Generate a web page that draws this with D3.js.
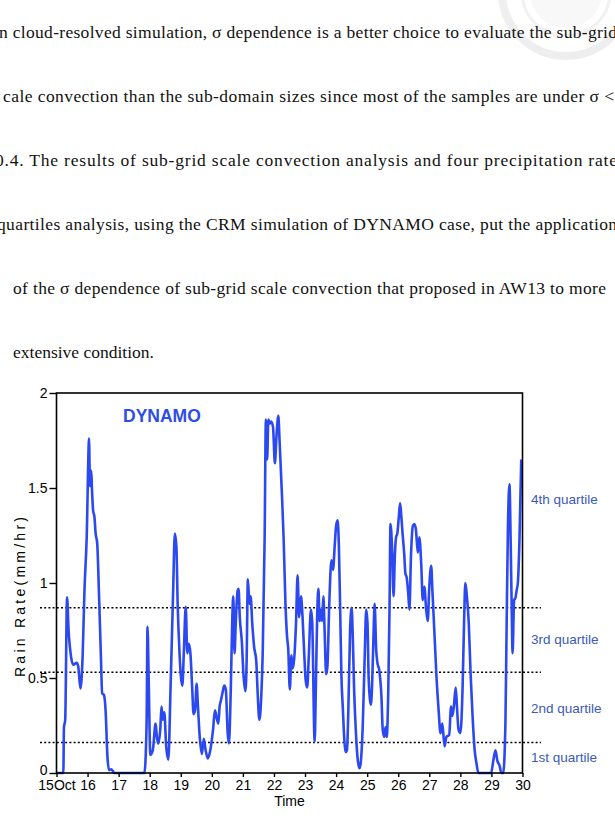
<!DOCTYPE html>
<html>
<head>
<meta charset="utf-8">
<script src="https://cdn.jsdelivr.net/npm/d3@7"></script>
<style>
  body { margin: 0; background: #fff; }
  svg { display: block; }
</style>
</head>
<body>
<div id="chart"></div>
<script>
// paragraph lines above the figure (page text)
const paraLines = [
  "n cloud-resolved simulation, σ dependence is a better choice to evaluate the sub-grid",
  "cale convection than the sub-domain sizes since most of the samples are under σ <",
  "0.4. The results of sub-grid scale convection analysis and four precipitation rate",
  "quartiles analysis, using the CRM simulation of DYNAMO case, put the application",
  "of the σ dependence of sub-grid scale convection that proposed in AW13 to more",
  "extensive condition."
]

// time axis, days of October 2011
const days = [
  15.00, 15.22, 15.24, 15.28, 15.34, 15.39, 15.47, 15.54, 15.65, 15.70, 15.77, 15.84, 15.90, 15.97,
  16.05, 16.06, 16.08, 16.12, 16.14, 16.18, 16.22, 16.26, 16.31, 16.37, 16.43, 16.47, 16.53, 16.58,
  16.64, 16.69, 16.77, 16.86, 17.83, 17.90, 17.93, 17.97, 18.02, 18.10, 18.19, 18.23, 18.27, 18.34,
  18.38, 18.42, 18.47, 18.53, 18.60, 18.67, 18.75, 18.81, 18.86, 18.90, 18.96, 19.05, 19.10, 19.16,
  19.21, 19.26, 19.31, 19.37, 19.41, 19.46, 19.51, 19.55, 19.61, 19.68, 19.74, 19.80, 19.87, 19.95,
  20.04, 20.10, 20.17, 20.21, 20.25, 20.29, 20.34, 20.40, 20.45, 20.51, 20.55, 20.61, 20.66, 20.69,
  20.73, 20.77, 20.83, 20.86, 20.90, 20.97, 21.01, 21.08, 21.12, 21.16, 21.21, 21.25, 21.30, 21.36,
  21.43, 21.47, 21.53, 21.59, 21.64, 21.70, 21.74, 21.78, 21.82, 21.87, 21.91, 21.97, 22.03, 22.08,
  22.14, 22.18, 22.25, 22.31, 22.37, 22.42, 22.46, 22.51, 22.56, 22.60, 22.65, 22.71, 22.76, 22.81,
  22.87, 22.92, 22.98, 23.02, 23.07, 23.12, 23.19, 23.23, 23.31, 23.35, 23.39, 23.43, 23.47, 23.51,
  23.55, 23.59, 23.63, 23.68, 23.72, 23.78, 23.85, 23.90, 23.96, 24.00, 24.05, 24.09, 24.13, 24.17,
  24.22, 24.26, 24.30, 24.35, 24.39, 24.45, 24.50, 24.54, 24.58, 24.63, 24.69, 24.75, 24.79, 24.86,
  24.92, 24.97, 25.01, 25.05, 25.12, 25.16, 25.20, 25.24, 25.29, 25.33, 25.39, 25.46, 25.50, 25.55,
  25.59, 25.63, 25.68, 25.72, 25.75, 25.80, 25.85, 25.89, 25.93, 25.97, 26.02, 26.06, 26.10, 26.14,
  26.19, 26.23, 26.27, 26.32, 26.36, 26.41, 26.47, 26.52, 26.57, 26.63, 26.68, 26.74, 26.79, 26.84,
  26.90, 26.95, 27.00, 27.06, 27.10, 27.17, 27.23, 27.30, 27.36, 27.42, 27.49, 27.55, 27.64, 27.70,
  27.74, 27.79, 27.85, 27.89, 27.94, 28.00, 28.07, 28.12, 28.16, 28.21, 28.27, 28.33, 28.39, 28.46,
  28.52, 28.58, 28.99, 29.06, 29.13, 29.19, 29.26, 29.32, 29.38, 29.45, 29.49, 29.53, 29.58, 29.62,
  29.66, 29.68, 29.73, 29.77, 29.81, 29.85, 29.90, 29.96
]

// domain mean rain rate (mm/hr)
const rain = [
  0.00, 0.00, 0.24, 0.28, 0.925, 0.75, 0.61, 0.57, 0.58, 0.56, 0.445, 0.61, 0.96, 1.23,
  1.76, 1.66, 1.51, 1.59, 1.50, 1.38, 1.35, 1.26, 1.21, 0.93, 0.61, 0.42, 0.41, 0.33,
  0.085, 0.015, 0.02, 0.00, 0.00, 0.26, 0.77, 0.47, 0.095, 0.12, 0.26, 0.19, 0.155, 0.23,
  0.35, 0.28, 0.32, 0.14, 0.07, 0.44, 0.93, 1.26, 1.19, 0.89, 0.63, 0.46, 0.64, 0.875,
  0.63, 0.68, 0.63, 0.44, 0.31, 0.33, 0.47, 0.36, 0.19, 0.10, 0.18, 0.12, 0.077, 0.12,
  0.23, 0.33, 0.28, 0.26, 0.35, 0.38, 0.42, 0.46, 0.44, 0.21, 0.155, 0.44, 0.82, 0.93,
  0.63, 0.79, 0.96, 0.97, 0.82, 0.68, 0.54, 0.43, 0.59, 1.02, 0.89, 0.93, 0.79, 0.665,
  0.59, 0.44, 0.28, 0.40, 0.65, 1.24, 1.86, 1.65, 1.86, 1.84, 1.85, 1.82, 1.63, 1.77,
  1.88, 1.75, 1.49, 1.24, 0.89, 0.72, 0.65, 0.44, 0.62, 0.55, 0.60, 0.79, 1.04, 0.82,
  0.93, 0.82, 0.61, 0.49, 0.45, 0.61, 0.86, 0.80, 0.165, 0.47, 0.82, 0.97, 0.80, 0.86,
  0.80, 0.93, 0.75, 0.52, 0.56, 0.89, 1.12, 1.07, 1.21, 1.30, 1.33, 1.19, 0.87, 0.52,
  0.33, 0.19, 0.11, 0.12, 0.30, 0.75, 0.87, 0.70, 0.44, 0.24, 0.08, 0.025, 0.05, 0.26,
  0.61, 0.86, 0.79, 0.49, 0.36, 0.47, 0.70, 0.89, 0.65, 0.58, 0.54, 0.40, 0.23, 0.19,
  0.24, 0.19, 0.44, 0.87, 1.31, 1.19, 0.93, 1.14, 1.24, 1.26, 1.35, 1.42, 1.35, 1.26,
  1.16, 1.05, 1.03, 0.95, 0.86, 1.14, 1.30, 1.31, 1.28, 1.16, 1.24, 1.10, 0.91, 0.98,
  0.86, 0.80, 0.98, 1.09, 0.96, 0.72, 0.51, 0.33, 0.21, 0.26, 0.14, 0.19, 0.20, 0.35,
  0.30, 0.35, 0.45, 0.35, 0.23, 0.21, 0.44, 0.80, 1.00, 0.93, 0.79, 0.52, 0.31, 0.12,
  0.05, 0.00, 0.00, 0.065, 0.12, 0.065, 0.04, 0.00, 0.00, 0.26, 0.79, 1.28, 1.52, 1.21,
  0.79, 0.63, 0.91, 0.92, 0.96, 1.00, 1.21, 1.65
]

// quartile boundaries and label anchor values
const quartileBounds = [0.16, 0.53, 0.87]
const quartileNames = ["1st quartile", "2nd quartile", "3rd quartile", "4th quartile"]
const quartileLabelAt = [0.085, 0.34, 0.705, 1.44]

const yTicks = [0, 0.5, 1, 1.5, 2]
const yTickLabels = ["0", "0.5", "1", "1.5", "2"]
const xTicks = d3.range(15, 31)
const xTickLabels = ["15Oct", "16", "17", "18", "19", "20", "21", "22", "23", "24", "25", "26", "27", "28", "29", "30"]

const width = 615
const height = 828
const plot = {left: 56.5, right: 522.5, top: 393, bottom: 773}

const svg = d3.select("#chart")
  .append("svg")
  .attr("width", width)
  .attr("height", height)

// faint seal watermark in the top right corner
const seal = svg.append("g").attr("opacity", 0.4)
seal.append("circle").attr("cx", 566).attr("cy", -8).attr("r", 64)
  .style("fill", "none").style("stroke", "#d6d6d6").style("stroke-width", 8)
seal.append("circle").attr("cx", 566).attr("cy", -8).attr("r", 44)
  .style("fill", "none").style("stroke", "#dedede").style("stroke-width", 3)
seal.append("circle").attr("cx", 566).attr("cy", -8).attr("r", 36)
  .style("fill", "#efefef").style("stroke", "none")

// page text, each justified between two x positions
const lineX = [[-1, 617], [3, 614], [-5, 617], [-3, 617], [13, 606], null]
const lineY0 = 38
const lineStep = 64

paraLines.forEach((t, i) => {
  const txt = svg.append("text")
    .attr("x", i === 5 ? 13 : lineX[i][0])
    .attr("y", lineY0 + i * lineStep)
    .style("font-family", "'Liberation Serif', 'Times New Roman', serif")
    .style("font-size", "17.5px")
    .style("fill", "#111")
    .text(t)
  if (lineX[i]) {
    txt.attr("textLength", lineX[i][1] - lineX[i][0]).attr("lengthAdjust", "spacing")
  }
})

const x = d3.scaleLinear().domain([15, 30]).range([plot.left, plot.right])
const y = d3.scaleLinear().domain([0, 2]).range([plot.bottom, plot.top])

const data = days.map((d, i) => ({day: d, rate: rain[i]}))

const font = "'Liberation Sans', Arial, sans-serif"

// quartile dotted lines (reach past the frame)
svg.append("g").selectAll("line")
  .data(quartileBounds)
  .enter()
  .append("line")
  .attr("x1", 40)
  .attr("x2", 541)
  .attr("y1", d => y(d))
  .attr("y2", d => y(d))
  .style("stroke", "#000")
  .style("stroke-width", 1.5)
  .style("stroke-dasharray", "2,2.2")

// rain rate line
const line = d3.line()
  .x(d => x(d.day))
  .y(d => y(d.rate))
  .curve(d3.curveMonotoneX)

svg.append("path")
  .datum(data)
  .attr("d", line)
  .style("fill", "none")
  .style("stroke", "#2c48f0")
  .style("stroke-width", 2.6)
  .style("stroke-linejoin", "round")

// frame
svg.append("rect")
  .attr("x", plot.left)
  .attr("y", plot.top)
  .attr("width", plot.right - plot.left)
  .attr("height", plot.bottom - plot.top)
  .style("fill", "none")
  .style("stroke", "#000")
  .style("stroke-width", 1.6)

const yaxis = svg.append("g")
  .attr("transform", "translate(" + plot.left + ",0)")
  .call(d3.axisLeft(y)
    .tickValues(yTicks)
    .tickFormat((d, i) => yTickLabels[i])
    .tickSizeOuter(0)
    .tickSizeInner(7)
    .tickPadding(2))
yaxis.select(".domain").remove()
yaxis.selectAll("line").style("stroke-width", 1.4)
yaxis.selectAll("text")
  .style("font-family", font)
  .style("font-size", "14px")
  .style("fill", "#000")
// lift the "0" label a little so it clears "15Oct"
yaxis.selectAll(".tick text").filter(d => d === 0).attr("dy", "0.1em")

const xaxis = svg.append("g")
  .attr("transform", "translate(0," + plot.bottom + ")")
  .call(d3.axisBottom(x)
    .tickValues(xTicks)
    .tickFormat((d, i) => xTickLabels[i])
    .tickSizeOuter(0)
    .tickSizeInner(4)
    .tickPadding(3))
xaxis.select(".domain").remove()
xaxis.selectAll("line").style("stroke-width", 1.4)
xaxis.selectAll("text")
  .style("font-family", font)
  .style("font-size", "14px")
  .style("fill", "#000")

// axis titles
svg.append("text")
  .attr("x", (plot.left + plot.right) / 2)
  .attr("y", 806)
  .attr("text-anchor", "middle")
  .style("font-family", font)
  .style("font-size", "14px")
  .text("Time")

svg.append("text")
  .attr("transform", "translate(25,597) rotate(-90)")
  .attr("text-anchor", "middle")
  .attr("textLength", 160)
  .attr("lengthAdjust", "spacing")
  .style("font-family", font)
  .style("font-size", "14px")
  .text("Rain  Rate(mm/hr)")

svg.append("text")
  .attr("x", 123)
  .attr("y", 422)
  .style("font-family", font)
  .style("font-weight", "bold")
  .style("font-size", "17.5px")
  .style("fill", "#2d4de6")
  .text("DYNAMO")

// quartile labels to the right of the frame
svg.append("g").selectAll("text")
  .data(quartileNames)
  .enter()
  .append("text")
  .attr("x", 531)
  .attr("y", (d, i) => y(quartileLabelAt[i]))
  .attr("dy", "0.35em")
  .style("font-family", font)
  .style("font-size", "13.5px")
  .style("fill", "#3a5ab8")
  .text(d => d)
</script>
</body>
</html>
